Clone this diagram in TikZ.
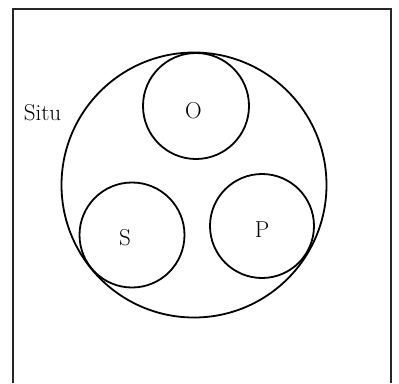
\documentclass[tikz,border=0pt]{standalone}
\usepackage{fontspec}
\setmainfont{Latin Modern Roman}
\begin{document}
\begin{tikzpicture}[x=1pt,y=-1pt,
  ring/.style={circle,draw,line width=1.8pt,inner sep=0pt},
  lbl/.style={inner sep=0pt,anchor=base,font=\fontsize{23}{26}\selectfont}]
\useasboundingbox (0,0) rectangle (399,383);
\coordinate (bl) at (13,383);
\coordinate (tl) at (13,9);
\coordinate (tr) at (391,9);
\coordinate (br) at (391,383);
\draw[line width=1.3pt,black!85] (bl) -- (tl) -- (tr) -- (br);
\node[ring,minimum size=265pt] (situ) at (194,185) {};
\node[ring,minimum size=106pt] (O) at (196,106) {};
\node[ring,minimum size=105pt] (S) at (132,235) {};
\node[ring,minimum size=104pt] (P) at (262,226) {};
\node[lbl] (situlbl) at (42.5,120) {Situ};
\node[lbl] (Olbl) at (193.5,118) {O};
\node[lbl] (Slbl) at (125,245) {S};
\node[lbl] (Plbl) at (262,237) {P};
\end{tikzpicture}
\end{document}
